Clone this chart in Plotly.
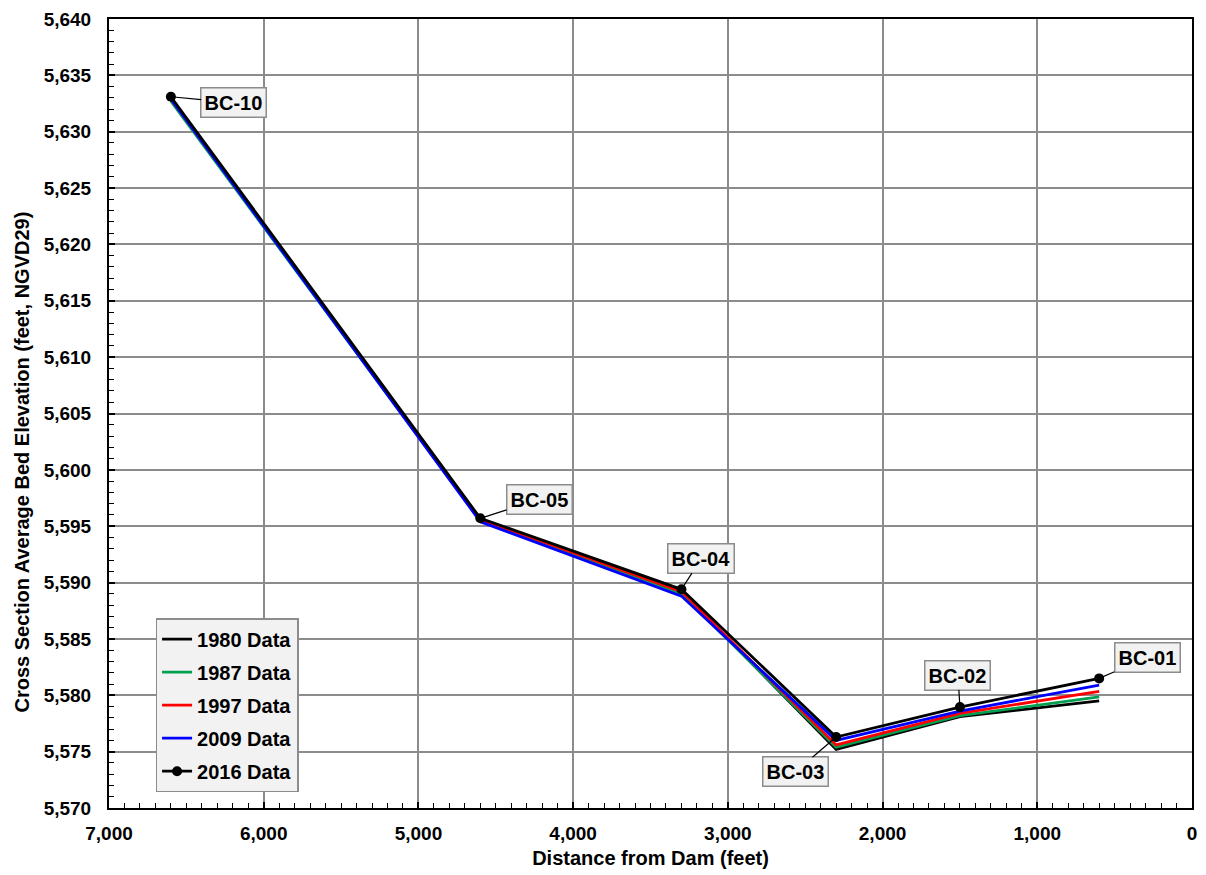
import plotly.graph_objects as go

distance = [6600, 4600, 3300, 2300, 1500, 600]
station_labels = ["BC-10", "BC-05", "BC-04", "BC-03", "BC-02", "BC-01"]

elev_1980 = [5632.9, 5595.6, 5589.2, 5575.2, 5578.1, 5579.5]
elev_1987 = [5632.7, 5595.5, 5589.0, 5575.4, 5578.2, 5579.85]
elev_1997 = [5632.9, 5595.6, 5589.2, 5575.6, 5578.4, 5580.35]
elev_2009 = [5632.9, 5595.4, 5588.8, 5576.0, 5578.6, 5580.9]
elev_2016 = [5633.1, 5595.7, 5589.4, 5576.3, 5578.95, 5581.5]

series_names = ["1980 Data", "1987 Data", "1997 Data", "2009 Data", "2016 Data"]
series_values = [elev_1980, elev_1987, elev_1997, elev_2009, elev_2016]
series_colors = ["#000000", "#00a050", "#ff0000", "#0000ff", "#000000"]

# label offsets (pixels) from each station point to label centre
label_ax = [63, 59, 20, -41, -2, 48]
label_ay = [6, -19, -31, 35, -32, -21]

FONT = "Arial, Liberation Sans, sans-serif"

fig = go.Figure()
for name, vals, col in zip(series_names, series_values, series_colors):
    is_2016 = name.startswith("2016")
    fig.add_trace(go.Scatter(
        x=distance, y=vals, name=name, legendgroup=name,
        mode="lines+markers" if is_2016 else "lines",
        line=dict(color=col, width=2.8),
        marker=dict(color=col, size=10),
    ))

for xv, yv, lab, ax, ay in zip(distance, elev_2016, station_labels, label_ax, label_ay):
    fig.add_annotation(
        x=xv, y=yv, text=lab, showarrow=True, arrowhead=0, arrowwidth=1.2,
        arrowcolor="black", ax=ax, ay=ay, standoff=0,
        font=dict(family=FONT, size=20, color="black", weight="bold"),
        bgcolor="#f2f2f2", bordercolor="#8c8c8c", borderwidth=1.5, borderpad=3,
    )

# y-axis title placed as in the reference (offset towards the bottom)
fig.add_annotation(
    text="Cross Section Average Bed Elevation (feet, NGVD29)",
    xref="paper", yref="paper", x=-0.08, y=(811 - 463) / 794,
    xanchor="center", yanchor="middle", textangle=-90, showarrow=False,
    font=dict(family=FONT, size=20, color="black", weight="bold"),
)

axis_common = dict(
    showgrid=True, gridcolor="#8c8c8c", gridwidth=1.5,
    showline=True, linecolor="black", linewidth=2, mirror=True,
    ticks="inside", ticklen=6, tickcolor="black", tickwidth=1.5,
    tickfont=dict(family=FONT, size=19, color="black", weight="bold"),
    tickformat=",d", zeroline=False,
)

fig.update_xaxes(
    **axis_common,
    range=[7000, 0], dtick=1000,
    minor=dict(dtick=100, ticks="inside", ticklen=5, tickcolor="black", tickwidth=1.2, showgrid=False),
    title=dict(text="Distance from Dam (feet)", standoff=8,
               font=dict(family=FONT, size=20, color="black", weight="bold")),
    ticklabelstandoff=7,
)
fig.update_yaxes(
    **axis_common,
    range=[5570, 5640], dtick=5,
    minor=dict(dtick=1, ticks="inside", ticklen=5, tickcolor="black", tickwidth=1.2, showgrid=False),
    ticklabelstandoff=12,
)

fig.update_layout(
    width=1206, height=875,
    margin=dict(l=109, r=9, t=17, b=64),
    plot_bgcolor="white", paper_bgcolor="white",
    showlegend=True,
    legend=dict(
        x=0.043, y=0.2406, xanchor="left", yanchor="top",
        bgcolor="#f2f2f2", bordercolor="#8c8c8c", borderwidth=1.5,
        font=dict(family=FONT, size=20, color="black", weight="bold"),
        itemwidth=30, tracegroupgap=4,
    ),
)

fig.write_html("out.html")
